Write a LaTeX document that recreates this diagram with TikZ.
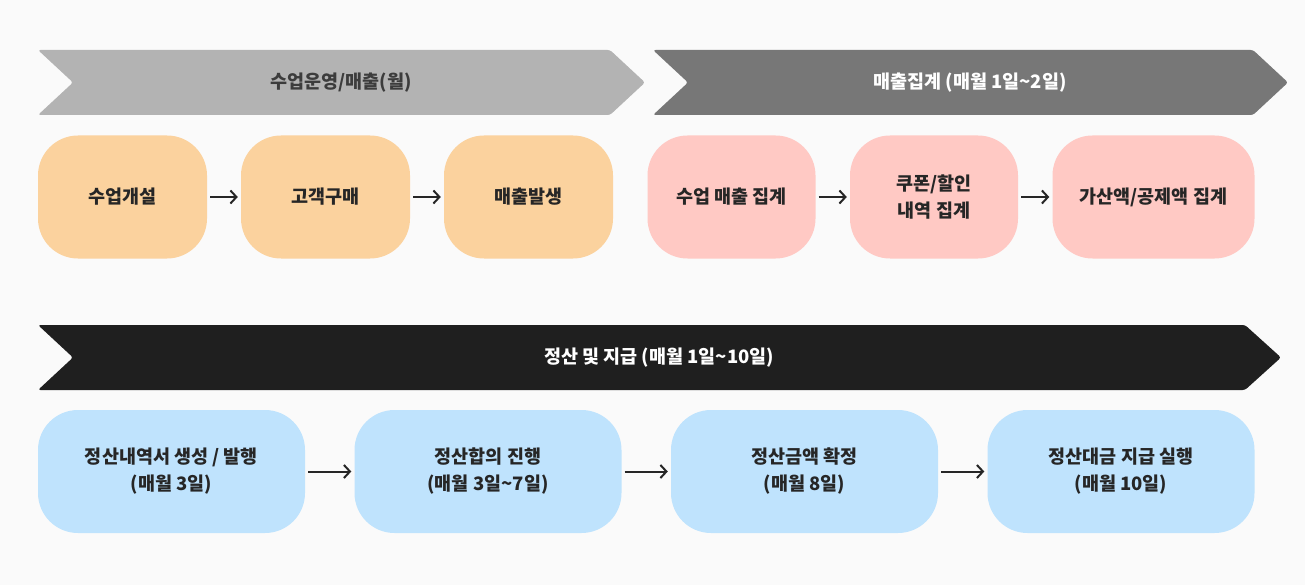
\documentclass[tikz,border=0pt]{standalone}
\usepackage{fontspec}
\setmainfont{Noto Sans CJK KR}
\usepackage{xcolor}
\usetikzlibrary{arrows.meta}

\definecolor{bgcol}{HTML}{FAFAFA}
\definecolor{bandlight}{HTML}{B3B3B3}
\definecolor{bandmid}{HTML}{777777}
\definecolor{banddark}{HTML}{1F1F1F}
\definecolor{runfill}{HTML}{FBD29E}
\definecolor{sumfill}{HTML}{FFC9C4}
\definecolor{payfill}{HTML}{BFE3FD}
\definecolor{inkcol}{HTML}{262626}

\begin{document}
\begin{tikzpicture}[x=1pt, y=-1pt,
        band/.style={rounded corners=2.5pt},
        bandtext/.style={font=\fontsize{18.5}{22}\selectfont\bfseries},
        stagebox/.style={rounded corners=40pt, minimum height=123pt, inner sep=0pt,
            align=center, text=inkcol, font=\fontsize{18.5}{27}\selectfont\bfseries},
        flow/.style={-{Straight Barb[length=6pt,width=13pt]}, line width=2pt,
            draw=inkcol, shorten <=3pt, shorten >=3pt}]

        % Background and page size
        \fill[bgcol] (0,0) rectangle (1305,585);
        \useasboundingbox (0,0) rectangle (1305,585);

        % Phase bands
        \fill[bandlight, band] (38,50) -- (610,50) -- (645,82.5) -- (610,115)
            -- (38,115) -- (73,82.5) -- cycle;
        \node[bandtext, text=inkcol!90] (run) at (341,82.5) {수업운영/매출(월)};

        \fill[bandmid, band] (653,50) -- (1253,50) -- (1288,82.5) -- (1253,115)
            -- (653,115) -- (688,82.5) -- cycle;
        \node[bandtext, text=white] (sum) at (970,82.5) {매출집계 (매월 1일\textasciitilde2일)};

        \fill[banddark, band] (38,325) -- (1245,325) -- (1281,357.5) -- (1245,390)
            -- (38,390) -- (73,357.5) -- cycle;
        \node[bandtext, text=white] (pay) at (659,357.5) {정산 및 지급 (매월 1일\textasciitilde10일)};

        % Class operation / sales steps
        \foreach[count=\i] \x/\label in {122.5/수업개설, 325.5/고객구매, 528.5/매출발생}{
            \node[stagebox, fill=runfill, minimum width=169pt] (r\i) at (\x,197) {\label};
        }

        % Sales summary steps
        \node[stagebox, fill=sumfill, minimum width=168pt] (s1) at (731.5,197) {수업 매출 집계};
        \node[stagebox, fill=sumfill, minimum width=168pt] (s2) at (934,197) {쿠폰/할인\\내역 집계};
        \node[stagebox, fill=sumfill, minimum width=202pt] (s3) at (1153.5,197) {가산액/공제액 집계};

        % Settlement and payment steps
        \foreach[count=\i] \x/\label in {
            171.5/{정산내역서 생성 / 발행\\(매월 3일)},
            488/{정산합의 진행\\(매월 3일\textasciitilde7일)},
            804.5/{정산금액 확정\\(매월 8일)},
            1121/{정산대금 지급 실행\\(매월 10일)}}{
            \node[stagebox, fill=payfill, minimum width=267pt] (p\i) at (\x,471.5) {\label};
        }

        % Connectors
        \draw[flow] (r1) -- (r2);
        \draw[flow] (r2) -- (r3);
        \draw[flow] (s1) -- (s2);
        \draw[flow] (s2) -- (s3);
        \foreach \i [evaluate=\i as \j using int(\i+1)] in {1,2,3}{
            \draw[flow] (p\i) -- (p\j);
        }
    \end{tikzpicture}
\end{document}
